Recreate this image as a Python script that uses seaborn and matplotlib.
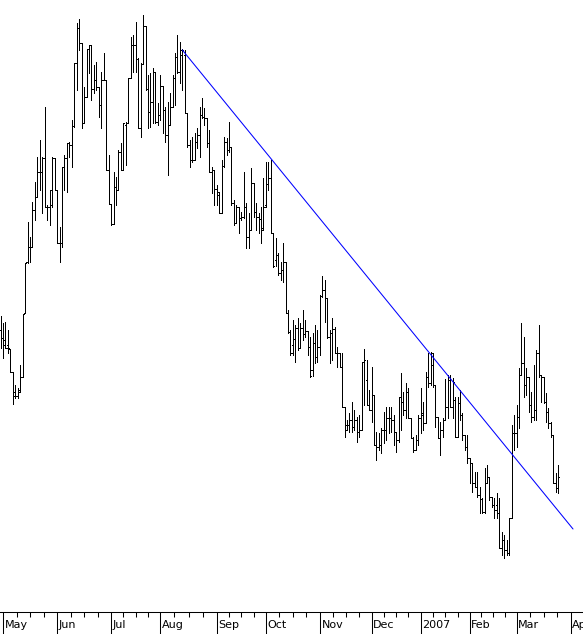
import numpy as np
import pandas as pd
import matplotlib
matplotlib.use("Agg")
import matplotlib.pyplot as plt
import matplotlib.transforms as mtransforms
import seaborn as sns

# ---------------- data ----------------
first_day = "2006-04-28"
last_axis_day = "2007-04-30"
holidays = ["2006-05-29", "2006-07-04", "2006-09-04", "2006-11-23", "2006-12-25",
            "2007-01-01", "2007-01-02", "2007-01-15", "2007-02-19"]
month_labels = ["May", "Jun", "Jul", "Aug", "Sep", "Oct", "Nov", "Dec", "2007", "Feb", "Mar", "Apr"]

high_prices = [
    334, 327, 328, 320, 301, 278, 265, 262, 285, 336,
    387, 428, 413, 448, 468, 493, 510, 493, 543, 445,
    460, 493, 492, 460, 423, 483, 495, 507, 508, 530,
    587, 627, 631, 607, 563, 601, 605, 605, 585, 588,
    563, 578, 597, 570, 495, 446, 478, 473, 500, 507,
    527, 528, 572, 613, 615, 628, 592, 587, 635, 624,
    575, 577, 582, 578, 547, 575, 564, 543, 548, 557,
    575, 597, 615, 608, 601, 600, 537, 510, 513, 517,
    522, 543, 552, 542, 532, 520, 483, 480, 465, 458,
    490, 513, 512, 528, 503, 450, 445, 443, 438, 478,
    447, 437, 482, 467, 447, 437, 443, 472, 488, 488,
    490, 417, 412, 397, 388, 407, 388, 340, 320, 330,
    325, 332, 327, 340, 330, 319, 313, 317, 325, 320,
    355, 374, 370, 352, 320, 332, 323, 303, 297, 297,
    243, 230, 237, 248, 240, 233, 235, 288, 301, 290,
    260, 283, 255, 218, 217, 222, 238, 243, 243, 243,
    235, 218, 253, 277, 258, 267, 262, 232, 213, 215,
    235, 262, 248, 278, 297, 298, 297, 265, 233, 228,
    232, 271, 275, 275, 272, 253, 253, 260, 237, 215,
    215, 192, 187, 178, 178, 163, 152, 182, 185, 173,
    153, 152, 157, 152, 118, 115, 110, 132, 225, 235,
    245, 282, 327, 313, 282, 273, 258, 285, 300, 325,
    275, 273, 257, 242, 228, 215, 177, 185,
]
low_prices = [
    302, 292, 302, 297, 278, 246, 252, 252, 258, 273,
    337, 387, 388, 403, 430, 453, 460, 437, 443, 430,
    425, 443, 460, 407, 388, 403, 460, 458, 493, 483,
    523, 560, 600, 522, 527, 553, 577, 550, 557, 560,
    533, 522, 570, 480, 446, 425, 426, 445, 460, 480,
    480, 485, 527, 572, 578, 578, 522, 513, 586, 560,
    522, 523, 527, 527, 525, 530, 517, 508, 475, 525,
    543, 545, 577, 567, 560, 537, 503, 483, 488, 490,
    502, 493, 532, 525, 503, 478, 457, 445, 445, 437,
    437, 483, 495, 498, 445, 425, 427, 417, 430, 432,
    402, 402, 420, 433, 420, 417, 407, 420, 443, 460,
    417, 383, 384, 375, 370, 368, 337, 317, 295, 295,
    288, 300, 302, 310, 313, 295, 273, 274, 287, 288,
    295, 353, 328, 312, 287, 290, 297, 283, 283, 243,
    213, 220, 218, 218, 220, 208, 213, 220, 245, 245,
    240, 228, 205, 190, 200, 197, 207, 210, 217, 218,
    205, 198, 208, 220, 235, 232, 232, 212, 198, 200,
    205, 217, 220, 227, 263, 265, 263, 223, 212, 195,
    213, 230, 232, 243, 232, 213, 213, 230, 210, 200,
    187, 167, 158, 163, 153, 137, 137, 137, 167, 150,
    143, 132, 132, 102, 95, 92, 95, 95, 132, 200,
    203, 222, 275, 253, 255, 238, 228, 230, 230, 273,
    248, 247, 228, 222, 213, 167, 158, 157,
]
open_prices = [
    320, 312, 310, 305, 301, 278, 258, 254, 260, 273,
    337, 388, 403, 403, 440, 453, 478, 478, 492, 443,
    443, 445, 492, 460, 407, 407, 483, 492, 507, 505,
    524, 587, 622, 607, 527, 553, 601, 605, 561, 570,
    563, 545, 570, 570, 480, 446, 426, 463, 460, 498,
    480, 525, 527, 572, 605, 605, 591, 522, 586, 624,
    561, 538, 548, 578, 528, 535, 564, 540, 515, 525,
    543, 572, 593, 578, 595, 595, 537, 505, 490, 490,
    508, 515, 535, 533, 532, 507, 478, 480, 461, 455,
    437, 484, 508, 500, 503, 447, 427, 443, 432, 433,
    443, 413, 420, 467, 438, 433, 431, 422, 445, 466,
    472, 417, 390, 395, 377, 380, 388, 337, 318, 305,
    311, 322, 302, 322, 316, 319, 303, 280, 307, 293,
    303, 354, 360, 352, 313, 317, 321, 297, 297, 283,
    243, 225, 225, 230, 223, 230, 218, 220, 288, 270,
    245, 240, 255, 205, 203, 205, 220, 220, 232, 232,
    230, 218, 210, 253, 248, 240, 258, 232, 212, 200,
    210, 232, 237, 227, 273, 267, 285, 265, 233, 212,
    220, 230, 243, 270, 243, 250, 213, 247, 235, 215,
    203, 192, 187, 167, 163, 155, 151, 138, 167, 173,
    153, 145, 145, 137, 102, 110, 100, 97, 132, 217,
    217, 233, 275, 287, 265, 273, 245, 233, 240, 297,
    275, 273, 248, 238, 227, 215, 167, 162,
]
close_prices = [
    312, 305, 302, 302, 278, 254, 254, 258, 273, 336,
    387, 403, 403, 440, 453, 478, 478, 492, 443, 443,
    460, 492, 460, 407, 407, 483, 492, 507, 505, 524,
    587, 622, 607, 527, 553, 601, 605, 561, 570, 563,
    545, 570, 570, 480, 446, 426, 463, 460, 498, 480,
    527, 527, 572, 605, 605, 591, 522, 586, 624, 561,
    538, 548, 578, 528, 535, 564, 540, 515, 525, 543,
    572, 593, 578, 600, 600, 537, 505, 490, 490, 508,
    515, 535, 533, 532, 507, 478, 480, 461, 458, 437,
    484, 508, 500, 503, 447, 427, 443, 432, 433, 443,
    413, 420, 467, 438, 433, 431, 420, 443, 466, 472,
    417, 384, 395, 377, 380, 388, 337, 318, 297, 311,
    322, 302, 322, 316, 319, 303, 274, 307, 293, 303,
    354, 360, 352, 313, 317, 321, 297, 297, 283, 243,
    220, 225, 230, 223, 230, 218, 220, 288, 290, 245,
    240, 255, 205, 203, 205, 220, 220, 232, 232, 230,
    218, 210, 253, 248, 240, 258, 232, 212, 200, 210,
    232, 235, 227, 273, 267, 297, 265, 233, 212, 220,
    230, 243, 270, 243, 268, 213, 247, 235, 215, 203,
    192, 187, 167, 163, 155, 151, 138, 167, 173, 153,
    145, 140, 137, 102, 110, 100, 97, 132, 217, 217,
    233, 275, 287, 265, 273, 245, 233, 240, 297, 275,
    273, 248, 238, 227, 215, 167, 162, 173,
]
trend_dates = ["2006-08-14", "2007-04-03"]
trend_values = [600, 121]

# ---------------- trading-day axis ----------------
axis_days = pd.bdate_range(first_day, last_axis_day, freq="C", holidays=holidays)
day_index = {d: i for i, d in enumerate(axis_days)}
n = len(high_prices)
bars = pd.DataFrame({
    "date": axis_days[:n],
    "pos": np.arange(n),
    "high": high_prices, "low": low_prices,
    "open": open_prices, "close": close_prices,
})

month_first = pd.Series(np.arange(len(axis_days)), index=axis_days)
month_first = month_first.groupby([axis_days.year, axis_days.month]).min().values
month_first = [m for m in month_first if axis_days[m] >= pd.Timestamp("2006-05-01")][:len(month_labels)]
minor_pos = []
for a, b in zip(month_first[:-1], month_first[1:]):
    minor_pos += [a + j * (b - a) / 4 for j in (1, 2, 3)]

trend = pd.DataFrame({"pos": [day_index[pd.Timestamp(d)] for d in trend_dates],
                      "value": trend_values})

# ---------------- drawing ----------------
sns.set_style("white")
plt.rcParams["font.family"] = ["DejaVu Sans"]

W, H = 583, 634
fig = plt.figure(figsize=(W / 100, H / 100), dpi=100)
axis_px = 612
ax = fig.add_axes([0, (H - axis_px) / H, 1, axis_px / H])

px_per_bar = 2.457
xmin = -0.54 / px_per_bar
ax.set_xlim(xmin, xmin + W / px_per_bar)
ax.set_ylim(650 - axis_px, 650)

lw = 0.72
ax.vlines(bars["pos"], bars["low"], bars["high"], color="black", lw=lw, antialiased=False)
ax.hlines(bars["open"], bars["pos"] - 0.45, bars["pos"], color="black", lw=lw, antialiased=False)
ax.hlines(bars["close"], bars["pos"], bars["pos"] + 0.45, color="black", lw=lw, antialiased=False)

sns.lineplot(data=trend, x="pos", y="value", ax=ax, color="#0000ff", lw=0.75, legend=False)

for s in ["top", "left", "right"]:
    ax.spines[s].set_visible(False)
ax.spines["bottom"].set_color("black")
ax.spines["bottom"].set_linewidth(0.75)

ax.set_yticks([])
ax.set_xticks(month_first)
ax.set_xticklabels([])
ax.set_xticks(minor_pos, minor=True)
ax.tick_params(axis="x", which="both", bottom=True, top=False)
ax.tick_params(axis="x", which="major", direction="out", length=22 * 0.72, width=0.75, color="black")
ax.tick_params(axis="x", which="minor", direction="out", length=4.5 * 0.72, width=0.75, color="black")
ax.set_xlabel("")
ax.set_ylabel("")

base = mtransforms.blended_transform_factory(ax.transData, ax.transAxes)
lab_tr = mtransforms.offset_copy(base, fig=fig, x=1.5, y=-13.5, units="dots")
for m, lab in zip(month_first, month_labels):
    ax.text(m, 0, lab, transform=lab_tr, ha="left", va="center", fontsize=8,
            color="black", clip_on=False)

fig.savefig("out.png", dpi=100)
